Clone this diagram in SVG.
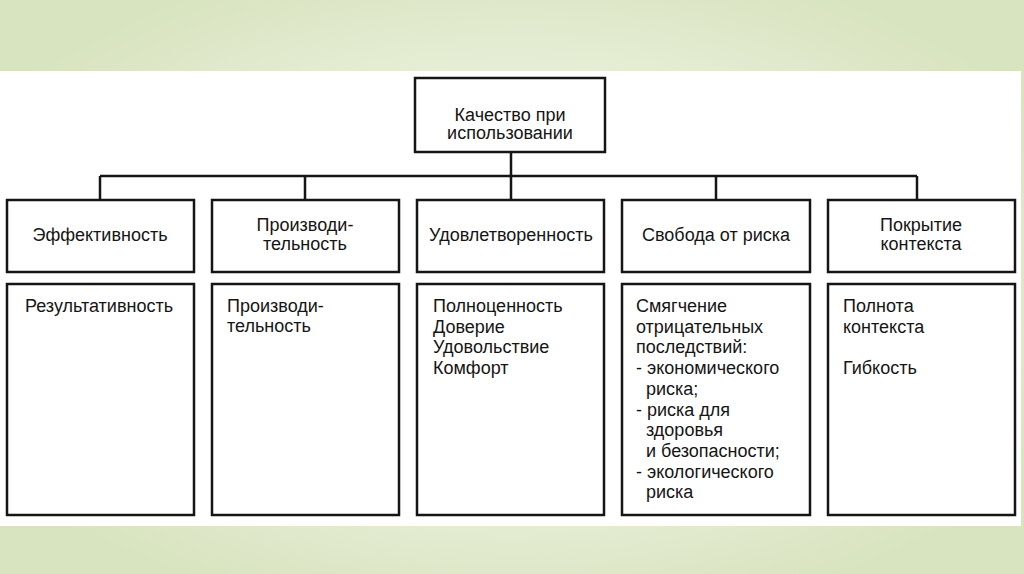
<svg xmlns="http://www.w3.org/2000/svg" width="1024" height="574" viewBox="0 0 1024 574">
<defs>
<radialGradient id="bg" cx="0.5" cy="0.5" r="0.6">
<stop offset="0" stop-color="#f3f7ec"/>
<stop offset="0.55" stop-color="#e9f0da"/>
<stop offset="1" stop-color="#d8e3bf"/>
</radialGradient>
<style>
.box{fill:#fff;stroke:#151515;stroke-width:2.5}
.ln{fill:none;stroke:#151515;stroke-width:2.5}
text{font-family:"Liberation Sans",Arial,sans-serif;font-size:18px;fill:#151515}
.c{text-anchor:middle}
</style>
</defs>
<rect x="0" y="0" width="1024" height="574" fill="url(#bg)"/>
<rect x="0" y="71" width="1021" height="455" fill="#fff"/>
<g id="connectors">
<path class="ln" d="M511 152V176M100 176H917M100 176V200M305 176V200M511 176V200M716 176V200M917 176V200"/>
</g>
<g id="root">
<rect class="box" x="415" y="78" width="190" height="74"/>
<text class="c" x="510" y="121">Качество при</text>
<text class="c" x="510" y="139">использовании</text>
</g>
<g id="h1">
<rect class="box" x="7" y="200" width="187" height="72"/>
<text class="c" x="100" y="241">Эффективность</text>
</g>
<g id="h2">
<rect class="box" x="212" y="200" width="187" height="72"/>
<text class="c" x="305" y="231">Производи-</text>
<text class="c" x="305" y="250">тельность</text>
</g>
<g id="h3">
<rect class="box" x="417" y="200" width="187" height="72"/>
<text class="c" x="511" y="241">Удовлетворенность</text>
</g>
<g id="h4">
<rect class="box" x="622" y="200" width="188" height="72"/>
<text class="c" x="716" y="241">Свобода от риска</text>
</g>
<g id="h5">
<rect class="box" x="828" y="200" width="187" height="72"/>
<text class="c" x="921" y="231">Покрытие</text>
<text class="c" x="921" y="250">контекста</text>
</g>
<g id="d1">
<rect class="box" x="7" y="284" width="187" height="231"/>
<text x="25" y="312">Результативность</text>
</g>
<g id="d2">
<rect class="box" x="212" y="284" width="187" height="231"/>
<text x="227" y="312">Производи-</text>
<text x="227" y="332">тельность</text>
</g>
<g id="d3">
<rect class="box" x="417" y="284" width="187" height="231"/>
<text x="433" y="312">Полноценность</text>
<text x="433" y="333">Доверие</text>
<text x="433" y="353">Удовольствие</text>
<text x="433" y="374">Комфорт</text>
</g>
<g id="d4">
<rect class="box" x="622" y="284" width="188" height="231"/>
<text x="636" y="312">Смягчение</text>
<text x="636" y="332.7">отрицательных</text>
<text x="636" y="353.4">последствий:</text>
<text x="636" y="374.1">- экономического</text>
<text x="646" y="394.8">риска;</text>
<text x="636" y="415.5">- риска для</text>
<text x="646" y="436.2">здоровья</text>
<text x="646" y="456.9">и безопасности;</text>
<text x="636" y="477.6">- экологического</text>
<text x="646" y="498.3">риска</text>
</g>
<g id="d5">
<rect class="box" x="828" y="284" width="187" height="231"/>
<text x="843" y="312">Полнота</text>
<text x="843" y="332.7">контекста</text>
<text x="843" y="374.1">Гибкость</text>
</g>
</svg>
